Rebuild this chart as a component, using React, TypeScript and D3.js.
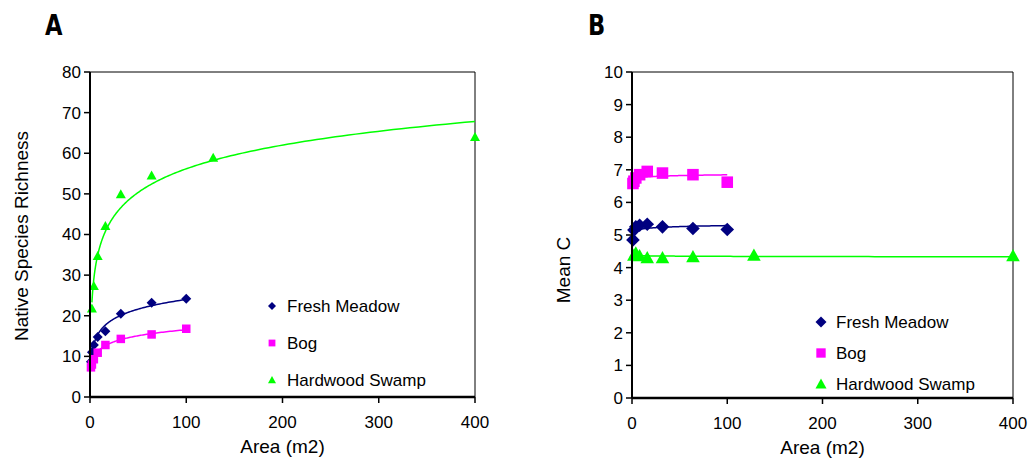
import React from "react";
import * as d3 from "d3";

const seriesNames = ["Fresh Meadow", "Bog", "Hardwood Swamp"];
const seriesColors = ["#000080", "#FF00FF", "#00FF00"];
const seriesShapes = ["diamond", "square", "triangle"];

// Panel A: Native species richness
const meadowAreaA = [1, 2, 4, 8, 16, 32, 64, 100];
const meadowRichness = [8.7, 11.0, 12.8, 14.8, 16.2, 20.5, 23.2, 24.2];
const bogAreaA = [1, 2, 4, 8, 16, 32, 64, 100];
const bogRichness = [7.3, 8.0, 9.3, 10.9, 12.8, 14.3, 15.4, 16.8];
const swampAreaA = [2, 4, 8, 16, 32, 64, 128, 400];
const swampRichness = [21.8, 27.3, 34.7, 42.1, 49.9, 54.5, 58.9, 64.0];

// Panel B: Mean C
const meadowAreaB = [1, 2, 4, 8, 16, 32, 64, 100];
const meadowMeanC = [4.85, 5.15, 5.25, 5.3, 5.33, 5.25, 5.2, 5.17];
const bogAreaB = [1, 2, 4, 8, 16, 32, 64, 100];
const bogMeanC = [6.58, 6.65, 6.75, 6.85, 6.95, 6.9, 6.85, 6.62];
const swampAreaB = [2, 4, 8, 16, 32, 64, 128, 400];
const swampMeanC = [4.38, 4.45, 4.36, 4.3, 4.3, 4.33, 4.38, 4.36];

const xTicks = [0, 100, 200, 300, 400];
const yTicksA = [0, 10, 20, 30, 40, 50, 60, 70, 80];
const yTicksB = [0, 1, 2, 3, 4, 5, 6, 7, 8, 9, 10];

const FONT = "'Liberation Sans', Arial, sans-serif";

function logFit(xs: number[], ys: number[]) {
  const lx = xs.map((v) => Math.log(v));
  const mx = d3.mean(lx)!;
  const my = d3.mean(ys)!;
  let num = 0, den = 0;
  lx.forEach((v, i) => {
    num += (v - mx) * (ys[i] - my);
    den += (v - mx) * (v - mx);
  });
  const b = num / den;
  const a = my - b * mx;
  return (x: number) => a + b * Math.log(x);
}

function Marker({ shape, color, x, y, s }: any) {
  if (shape === "diamond") {
    return <path d={`M${x},${y - s}L${x + s},${y}L${x},${y + s}L${x - s},${y}Z`} fill={color} />;
  }
  if (shape === "square") {
    const h = s * 0.85;
    return <rect x={x - h} y={y - h} width={2 * h} height={2 * h} fill={color} />;
  }
  return <path d={`M${x},${y - s}L${x + s},${y + s * 0.8}L${x - s},${y + s * 0.8}Z`} fill={color} />;
}

function Panel({ left, right, top, bottom, yMax, yTicks, series, yTitle, label, labelX, ms, legend, titleY }: any) {
  const x = d3.scaleLinear().domain([0, 400]).range([left, right]);
  const y = d3.scaleLinear().domain([0, yMax]).range([bottom, top]);
  return (
    <g>
      <text transform={`translate(${labelX},35) scale(0.78,1)`} fontFamily="'DejaVu Sans', Arial" fontWeight="bold" fontSize={29} fill="#000">{label}</text>
      {/* frame */}
      <line x1={left} x2={right} y1={top} y2={top} stroke="#000" strokeWidth={1} />
      <line x1={right} x2={right} y1={top} y2={bottom} stroke="#000" strokeWidth={1} />
      {/* trend lines */}
      {series.map((s: any, i: number) => {
        const f = logFit(s.xs, s.ys);
        const x0 = d3.min(s.xs as number[])!;
        const x1 = d3.max(s.xs as number[])!;
        const pts = d3.range(0, 201).map((k) => Math.exp(Math.log(x0) + (Math.log(x1) - Math.log(x0)) * k / 200));
        const line = d3.line<number>().x((v) => x(v)).y((v) => y(f(v)));
        return <path key={"l" + i} d={line(pts)!} fill="none" stroke={seriesColors[i]} strokeWidth={1.5} />;
      })}
      {/* markers */}
      {series.map((s: any, i: number) =>
        s.xs.map((v: number, j: number) => (
          <Marker key={`m${i}-${j}`} shape={seriesShapes[i]} color={seriesColors[i]} x={x(v)} y={y(s.ys[j])} s={ms} />
        ))
      )}
      {/* axes */}
      <line x1={left} x2={left} y1={top} y2={bottom} stroke="#000" strokeWidth={2} />
      <line x1={left} x2={right} y1={bottom} y2={bottom} stroke="#000" strokeWidth={2.5} />
      {yTicks.map((t: number) => (
        <g key={"yt" + t}>
          <line x1={left - 6} x2={left} y1={y(t)} y2={y(t)} stroke="#000" strokeWidth={1.5} />
          <text x={left - 9} y={y(t)} dy="0.35em" textAnchor="end" fontFamily={FONT} fontSize={17} fill="#000">{t}</text>
        </g>
      ))}
      {xTicks.map((t) => (
        <g key={"xt" + t}>
          <line x1={x(t)} x2={x(t)} y1={bottom} y2={bottom + 6} stroke="#000" strokeWidth={1.5} />
          <text x={x(t)} y={bottom + 31} textAnchor="middle" fontFamily={FONT} fontSize={17} fill="#000">{t}</text>
        </g>
      ))}
      <text x={(left + right) / 2} y={bottom + 56} textAnchor="middle" fontFamily={FONT} fontSize={19} fill="#000">Area (m2)</text>
      <text transform={`translate(${left - 62},${titleY}) rotate(-90)`} textAnchor="middle" fontFamily={FONT} fontSize={19} fill="#000">{yTitle}</text>
      {/* legend */}
      {seriesNames.map((n, i) => (
        <g key={"lg" + i}>
          <Marker shape={seriesShapes[i]} color={seriesColors[i]} x={legend.x} y={legend.y + i * legend.dy} s={legend.ms} />
          <text x={legend.x + 15} y={legend.y + i * legend.dy} dy="0.35em" fontFamily={FONT} fontSize={17} fill="#000">{n}</text>
        </g>
      ))}
    </g>
  );
}

export default function App() {
  const seriesA = [
    { xs: meadowAreaA, ys: meadowRichness },
    { xs: bogAreaA, ys: bogRichness },
    { xs: swampAreaA, ys: swampRichness },
  ];
  const seriesB = [
    { xs: meadowAreaB, ys: meadowMeanC },
    { xs: bogAreaB, ys: bogMeanC },
    { xs: swampAreaB, ys: swampMeanC },
  ];
  return (
    <svg width={1036} height={463} style={{ position: "absolute", left: 0, top: 0, background: "#fff" }}>
      <rect width={1036} height={463} fill="#fff" />
      <Panel left={90} right={475} top={72} bottom={397} yMax={80} yTicks={yTicksA} series={seriesA}
        yTitle="Native Species Richness" label="A" labelX={45} ms={5} titleY={236}
        legend={{ x: 272, y: 306, dy: 37, ms: 4 }} />
      <Panel left={632} right={1013} top={72} bottom={398} yMax={10} yTicks={yTicksB} series={seriesB}
        yTitle="Mean C" label="B" labelX={588} ms={6.8} titleY={270}
        legend={{ x: 821, y: 322, dy: 31, ms: 5.5 }} />
    </svg>
  );
}
